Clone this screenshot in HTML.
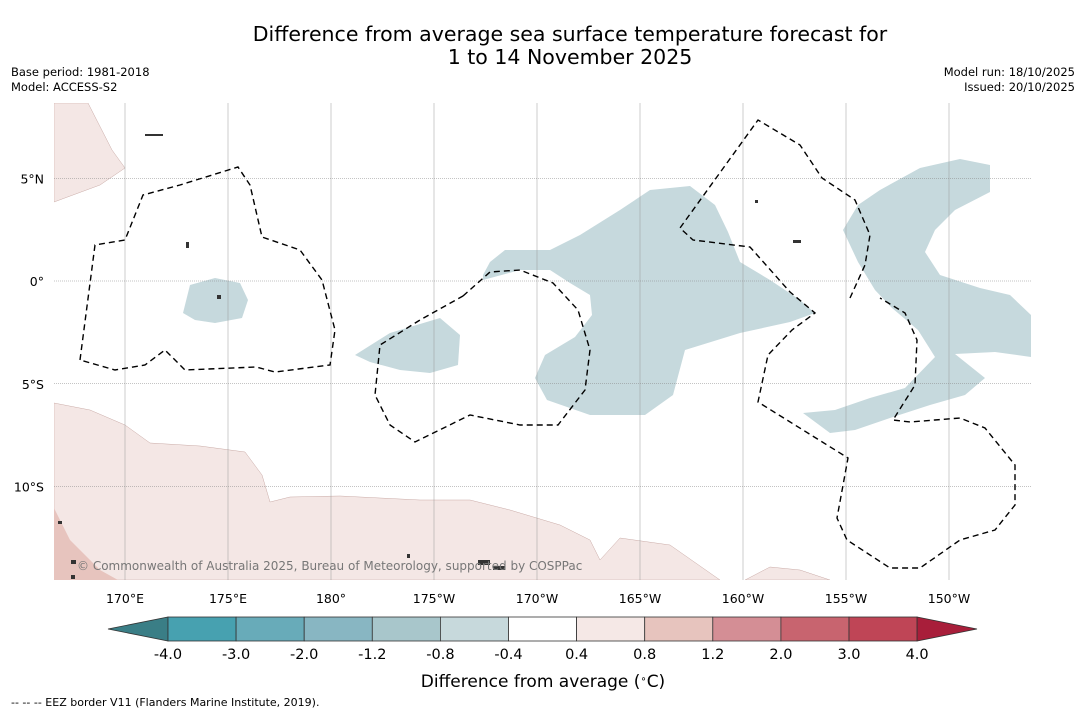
<!DOCTYPE html>
<html><head><meta charset="utf-8"><style>
body{margin:0;background:#fff;width:1085px;height:713px;overflow:hidden;font-family:"DejaVu Sans",sans-serif}
</style></head><body>
<svg id="chart" width="1085" height="713" viewBox="0 0 1085 713" xmlns="http://www.w3.org/2000/svg" font-family="DejaVu Sans, sans-serif">
<text x="570" y="41" font-size="20.5" text-anchor="middle">Difference from average sea surface temperature forecast for</text>
<text x="570" y="64" font-size="20.5" text-anchor="middle">1 to 14 November 2025</text>
<text x="11" y="76" font-size="11.5">Base period: 1981-2018</text>
<text x="11" y="91" font-size="11.5">Model: ACCESS-S2</text>
<text x="1075" y="76" font-size="11.5" text-anchor="end">Model run: 18/10/2025</text>
<text x="1075" y="91" font-size="11.5" text-anchor="end">Issued: 20/10/2025</text>
<defs><clipPath id="mc"><rect x="54" y="103" width="977" height="477"/></clipPath></defs>
<g id="map" clip-path="url(#mc)">
<rect x="54" y="103" width="977" height="477" fill="#fff"/>
<polygon fill="#f4e7e5" stroke="#c9aaa6" stroke-width="0.5" points="54,103 88,103 112,150 125,168 100,185 54,202"/>
<polygon fill="#f4e7e5" stroke="#c9aaa6" stroke-width="0.5" points="54,403 90,410 125,425 150,443 200,446 245,452 262,475 270,502 290,497 340,496 420,500 470,500 510,510 560,525 590,540 600,560 620,538 670,545 720,580 54,580"/>
<polygon fill="#f4e7e5" stroke="#c9aaa6" stroke-width="0.5" points="745,580 770,567 800,570 830,580"/>
<polygon fill="#e7c4be" points="54,508 70,540 100,570 118,580 54,580"/>
<polygon fill="#c6d9dd" points="190,285 215,278 240,283 248,300 242,318 215,323 195,320 183,313"/>
<polygon fill="#c6d9dd" points="355,355 390,333 440,318 460,335 458,365 430,373 400,370 370,362"/>
<polygon fill="#c6d9dd" points="483,275 490,262 505,250 550,250 580,235 620,210 650,190 690,186 715,205 728,232 740,262 770,280 800,300 815,313 790,322 740,333 685,350 673,395 645,415 590,415 547,400 535,378 545,355 575,337 592,315 590,295 570,283 550,270 520,270 483,280"/>
<polygon fill="#c6d9dd" points="843,230 858,205 880,190 920,168 960,159 990,165 990,192 955,210 935,230 925,252 940,275 980,288 1010,295 1031,315 1031,357 995,352 955,354 985,378 965,395 930,405 890,418 855,430 830,433 803,413 835,410 870,398 905,388 935,357 918,330 892,308 875,290 858,262"/>
<g id="grid"></g>
<g fill="none" stroke="#000" stroke-width="1.4" stroke-dasharray="6,4">
<polyline points="80,360 95,245 125,240 143,195 180,185 238,167 250,185 262,237 300,250 322,280 335,330 330,365 275,372 256,367 185,370 165,350 145,365 115,370 80,360"/>
<polyline points="463,296 490,272 520,270 553,283 578,310 590,350 585,390 558,425 520,425 470,415 415,442 390,425 375,395 380,345 420,320 463,296"/>
<polyline points="850,298 865,265 870,235 855,200 822,178 800,145 758,120 680,228 693,240 750,247 790,292 815,313 792,330 768,355 758,402 848,458 837,518 847,540 890,568 920,568 960,540 995,530 1015,505 1015,465 985,428 960,418 935,420 910,422 893,420 915,385 917,340 905,313 880,298"/>
</g>
<g fill="#333">
<rect x="478" y="560" width="12" height="5"/><rect x="493" y="566" width="12" height="4"/><rect x="58" y="521" width="4" height="3"/><rect x="71" y="560" width="5" height="4"/><rect x="71" y="575" width="4" height="4"/><rect x="407" y="554" width="3" height="4"/><rect x="145" y="134" width="18" height="2"/><rect x="793" y="240" width="8" height="3"/><rect x="755" y="200" width="3" height="3"/><rect x="217" y="295" width="4" height="4"/><rect x="186" y="242" width="3" height="6"/>
</g>
<text x="77" y="570" font-size="12" fill="#777">© Commonwealth of Australia 2025, Bureau of Meteorology, supported by COSPPac</text>
</g>
<g id="axes"></g>
<g id="cbar"></g>
<text x="543" y="687" font-size="17" text-anchor="middle">Difference from average (<tspan baseline-shift="super" font-size="10">∘</tspan>C)</text>
<text x="11" y="706" font-size="11">--  --  -- EEZ border V11 (Flanders Marine Institute, 2019).</text>
</svg>
<script>
const lonTicks=[170,175,180,185,190,195,200,205,210];
const lonLabels=["170°E","175°E","180°","175°W","170°W","165°W","160°W","155°W","150°W"];
const latTicks=[5,0,-5,-10];
const latLabels=["5°N","0°","5°S","10°S"];
const cbarLevels=["-4.0","-3.0","-2.0","-1.2","-0.8","-0.4","0.4","0.8","1.2","2.0","3.0","4.0"];
const cbarColors=["#47a1b0","#68abb9","#88b6c2","#a8c6cb","#c7d9dc","#ffffff","#f5e8e6","#e7c4be","#d48e95","#c8646f","#bf4556"];
const NS="http://www.w3.org/2000/svg";
const xLon=l=>125+(l-170)*20.6;
const yLat=l=>281-l*20.55;
function mk(t,a,p){const e=document.createElementNS(NS,t);for(const k in a)e.setAttribute(k,a[k]);p.appendChild(e);return e;}
const grid=document.getElementById('grid'),axes=document.getElementById('axes');
lonTicks.forEach((l,i)=>{
 const g=mk('line',{x1:xLon(l),x2:xLon(l),y1:103,y2:580,stroke:'#999','stroke-width':0.5},grid);
 
 
 const t=mk('text',{x:xLon(l),y:603,'font-size':12.5,'text-anchor':'middle'},axes);t.textContent=lonLabels[i];
 
 
});
latTicks.forEach((l,i)=>{
 const g=mk('line',{x1:54,x2:1031,y1:yLat(l),y2:yLat(l),stroke:'#888','stroke-width':0.6,'stroke-dasharray':'1,1'},grid);
 
 
 const t=mk('text',{x:44,y:yLat(l)+5,'font-size':12.5,'text-anchor':'end'},axes);t.textContent=latLabels[i];
 
 
});
const cb=document.getElementById('cbar');
const x0=168,w=68.1,y0=617,h=24;
const lt=mk('polygon',{points:`108,${y0+h/2} ${x0},${y0} ${x0},${y0+h}`,fill:'#3a7e86',stroke:'#333','stroke-width':0.8},cb);


cbarColors.forEach((c,i)=>{
 const r=mk('rect',{x:x0+i*w,y:y0,width:w,height:h,fill:c,stroke:'#333','stroke-width':0.8},cb);
 
 
});
const xe=x0+cbarColors.length*w;
const rt=mk('polygon',{points:`${xe},${y0} 977,${y0+h/2} ${xe},${y0+h}`,fill:'#a81e3a',stroke:'#333','stroke-width':0.8},cb);


cbarLevels.forEach((v,i)=>{
 const t=mk('text',{x:x0+i*w,y:659,'font-size':14.5,'text-anchor':'middle'},cb);t.textContent=v;
 
 
});
</script>
</body></html>
